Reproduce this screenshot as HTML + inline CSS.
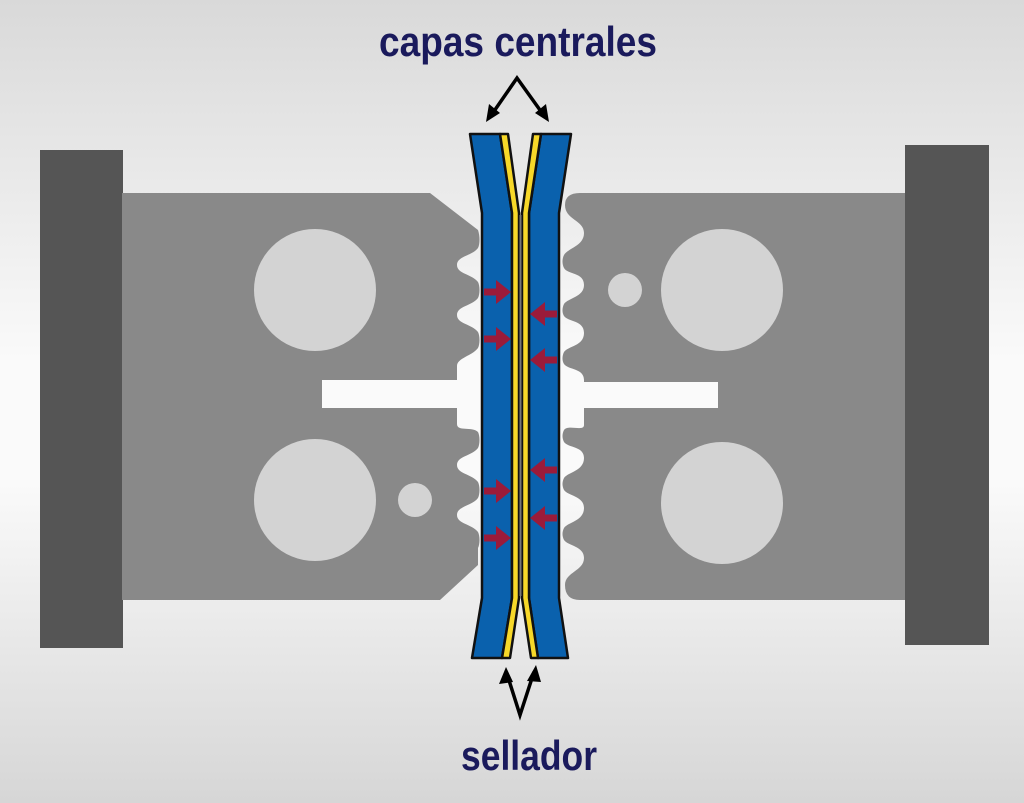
<!DOCTYPE html>
<html><head><style>
html,body{margin:0;padding:0;width:1024px;height:803px;overflow:hidden}
</style></head><body>
<svg width="1024" height="803" viewBox="0 0 1024 803" xmlns="http://www.w3.org/2000/svg">
<defs>
<linearGradient id="bg" x1="0" y1="0" x2="0" y2="1">
<stop offset="0" stop-color="#d9d9d9"/>
<stop offset="0.45" stop-color="#fafafa"/>
<stop offset="0.6" stop-color="#fafafa"/>
<stop offset="1" stop-color="#d6d6d6"/>
</linearGradient>
<g id="ra"><rect x="484" y="-3.5" width="14" height="7"/><path d="M496 -12 L511 0 L496 12 Z"/></g>
</defs>
<rect width="1024" height="803" fill="url(#bg)"/>
<rect x="40" y="150" width="83" height="498" fill="#555"/>
<rect x="905" y="145" width="84" height="500" fill="#555"/>
<!-- left jaw -->
<path fill="#898989" d="M122 193 L430 193 L478 230
C480 236 480 244 478 248 C472 256 457 256 457 265 C457 274 472 274 478 282 C480 286 480 294 478 298 C472 306 457 306 457 315 C457 324 472 324 478 332 C480 336 480 344 478 348 C472 356 457 358 457 366
L457 424 C457 432 472 426 478 432 C480 436 480 444 478 448 C472 456 457 456 457 465 C457 474 472 474 478 482 C480 486 480 494 478 498 C472 506 457 506 457 515 C457 524 472 524 478 532 C480 536 480 544 478 548
L478 565 L440 600 L122 600 Z"/>
<!-- right jaw -->
<path fill="#898989" d="M905 193 L580 193 Q565 193 565 205
C565 220 584 220 584 233 C584 246 568 248 564 255 C562 259 562 264 564 268 C568 275 584 272 584 285 C584 297 568 298 564 304 C562 308 562 313 564 316 C568 322 584 320 584 333 C584 346 568 346 564 352 C562 356 562 361 564 364 C568 370 584 368 584 380
L584 425 C584 432 568 424 564 430 C562 434 562 438 564 442 C568 448 584 446 584 458 C584 471 568 472 564 478 C562 482 562 486 564 490 C568 496 584 496 584 508 C584 521 568 522 564 528 C562 532 562 536 564 540 C568 546 584 546 584 558 C584 571 565 572 565 585 Q565 600 580 600 L905 600 Z"/>
<rect x="322" y="380" width="150" height="28" fill="#fafafa"/>
<rect x="560" y="382" width="158" height="26" fill="#fafafa"/>
<g fill="#d3d3d3">
<circle cx="315" cy="290" r="61"/>
<circle cx="315" cy="500" r="61"/>
<circle cx="415" cy="500" r="17"/>
<circle cx="722" cy="290" r="61"/>
<circle cx="722" cy="503" r="61"/>
<circle cx="625" cy="290" r="17"/>
</g>
<g stroke="#111" stroke-width="2.5" stroke-linejoin="round">
<path fill="#0a61ad" d="M470 134 L500 134 L512 213 L512 598 L502 658 L472 658 L482 598 L482 213 Z"/>
<path fill="#0a61ad" d="M571 134 L541 134 L529 213 L529 598 L538 658 L568 658 L559 598 L559 213 Z"/>
<path fill="#f7d829" d="M500 134 L508 134 L519 213 L519 598 L510 658 L502 658 L512 598 L512 213 Z"/>
<path fill="#f7d829" d="M541 134 L533 134 L522 213 L522 598 L531 658 L538 658 L529 598 L529 213 Z"/>
</g>
<line x1="520.5" y1="215" x2="520.5" y2="596" stroke="#777" stroke-width="2"/>
<g fill="#9b1b3a">
<use href="#ra" y="292"/><use href="#ra" y="339"/><use href="#ra" y="491"/><use href="#ra" y="538"/>
<g transform="translate(1041,0) scale(-1,1)">
<use href="#ra" y="314"/><use href="#ra" y="360"/><use href="#ra" y="470"/><use href="#ra" y="518"/>
</g>
</g>
<g stroke="#000" stroke-width="3.5" fill="none">
<path d="M490 117 L517 78 L545 117"/>
<path d="M507 674 L520 715 L534 672"/>
</g>
<g fill="#000">
<path d="M486 122 L489 104 L500 113 Z"/>
<path d="M549 122 L546 104 L535 113 Z"/>
<path d="M506 667 L499 684 L513 682 Z"/>
<path d="M536 665 L527 681 L541 682 Z"/>
</g>
<g font-family="'Liberation Sans Narrow','Liberation Sans',sans-serif" font-weight="bold" fill="#1a1a5c" text-anchor="middle">
<text x="518" y="56" font-size="42" textLength="278" lengthAdjust="spacingAndGlyphs">capas centrales</text>
<text x="529" y="770" font-size="42" textLength="136" lengthAdjust="spacingAndGlyphs">sellador</text>
</g>
</svg>
</body></html>
